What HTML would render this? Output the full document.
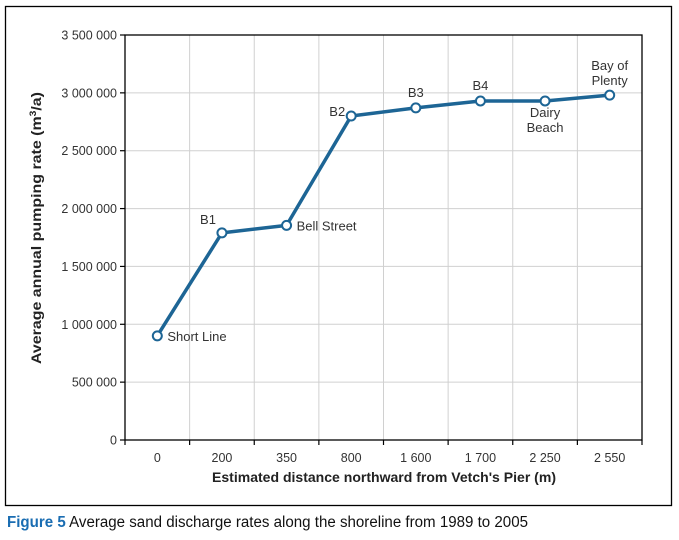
<!DOCTYPE html>
<html><head><meta charset="utf-8"><style>
body{margin:0;background:#fff;}
svg{display:block;font-family:"Liberation Sans",sans-serif;}
</style></head><body>
<svg id="c" width="679" height="540" viewBox="0 0 679 540">
<rect x="5.5" y="6.5" width="666" height="499" fill="none" stroke="#000" stroke-width="1.3"/>
<g id="grid"></g><g id="axes"></g><g id="series"></g><g id="labels"></g>
<text x="384" y="482" text-anchor="middle" font-size="14" font-weight="bold" fill="#222" textLength="344" lengthAdjust="spacingAndGlyphs">Estimated distance northward from Vetch's Pier (m)</text>
<text x="41" y="228" text-anchor="middle" font-size="14" font-weight="bold" fill="#222" transform="rotate(-90 41 228)" textLength="272" lengthAdjust="spacingAndGlyphs">Average annual pumping rate (m<tspan font-size="9" dy="-5">3</tspan><tspan dy="5">/a)</tspan></text>
<text x="7" y="527" font-size="15.5" textLength="521" lengthAdjust="spacingAndGlyphs"><tspan font-weight="bold" fill="#1a6db2">Figure 5</tspan><tspan fill="#111"> Average sand discharge rates along the shoreline from 1989 to 2005</tspan></text>
</svg>
<script>
const categories=["0","200","350","800","1 600","1 700","2 250","2 550"];
const values=[900000,1790000,1855000,2800000,2870000,2930000,2930000,2980000];
const pointLabels=["Short Line","B1","Bell Street","B2","B3","B4","Dairy Beach","Bay of Plenty"];
const yTicks=[0,500000,1000000,1500000,2000000,2500000,3000000,3500000];
const yTickLabels=["0","500 000","1 000 000","1 500 000","2 000 000","2 500 000","3 000 000","3 500 000"];
const NS="http://www.w3.org/2000/svg";
const L=125,R=642,T=35,B=440,YMAX=3500000;
const bw=(R-L)/categories.length;
const xS=i=>L+bw*(i+0.5);
const yS=v=>B-(v/YMAX)*(B-T);
function mk(parent,tag,attrs){const e=document.createElementNS(NS,tag);for(const k in attrs)e.setAttribute(k,attrs[k]);document.getElementById(parent).appendChild(e);return e;}
for(let i=1;i<categories.length;i++){const x=L+bw*i;
const g=mk("grid","line",{x1:x,x2:x,y1:T,y2:B,stroke:"#d0d0d0","stroke-width":1});

}
yTicks.forEach((v,i)=>{const y=yS(v);
if(i>0&&i<yTicks.length-1){const g=mk("grid","line",{x1:L,x2:R,y1:y,y2:y,stroke:"#d0d0d0","stroke-width":1});

}
const t=mk("axes","line",{x1:L-5,x2:L,y1:y,y2:y,stroke:"#000","stroke-width":1.2});


const tx=mk("axes","text",{x:L-8,y:y+4.5,"text-anchor":"end","font-size":12.5,fill:"#333"});
tx.textContent=yTickLabels[i];

});
const box=mk("axes","rect",{x:L,y:T,width:R-L,height:B-T,fill:"none",stroke:"#000","stroke-width":1.3});


for(let i=0;i<=categories.length;i++){const x=L+bw*i;
const t=mk("axes","line",{x1:x,x2:x,y1:B,y2:B+5,stroke:"#000","stroke-width":1.2});

}
categories.forEach((c,i)=>{const t=mk("axes","text",{x:xS(i),y:B+22,"text-anchor":"middle","font-size":12.5,fill:"#333"});
t.textContent=c;

});
const pl=mk("series","polyline",{points:values.map((v,i)=>xS(i)+","+yS(v)).join(" "),fill:"none",stroke:"#1d6595","stroke-width":3.5,"stroke-linejoin":"round"});


values.forEach((v,i)=>{const c=mk("series","circle",{cx:xS(i),cy:yS(v),r:4.5,fill:"#fff",stroke:"#1d6595","stroke-width":2});

});
const off=[[10,5,"start"],[-6,-9,"end"],[10,5,"start"],[-6,0,"end"],[0,-11,"middle"],[0,-11,"middle"],[0,16,"middle"],[0,-25,"middle"]];
values.forEach((v,i)=>{const o=off[i];const t=mk("labels","text",{x:xS(i)+o[0],y:yS(v)+o[1],"text-anchor":o[2],"font-size":13,fill:"#333"});
const words=pointLabels[i];
if(i>=6){const p=words.split(" ");const a=i==6?[p[0],p[1]]:[p[0]+" "+p[1],p[2]];
a.forEach((w,k)=>{const s=document.createElementNS(NS,"tspan");s.setAttribute("x",xS(i)+o[0]);if(k)s.setAttribute("dy",15);s.textContent=w;t.appendChild(s);});}
else t.textContent=words;

});
</script>
</body></html>
